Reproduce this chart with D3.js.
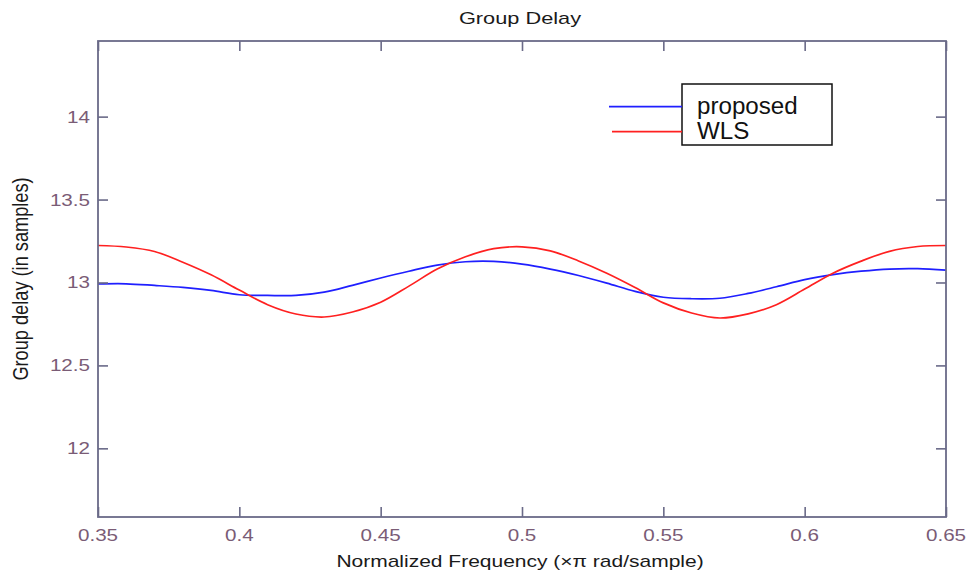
<!DOCTYPE html>
<html>
<head>
<meta charset="utf-8">
<script src="https://cdn.jsdelivr.net/npm/d3@7"></script>
<style>
  html, body { margin: 0; padding: 0; background: #fff; }
  svg { display: block; font-family: "Liberation Sans", Arial, Helvetica, sans-serif; }
</style>
</head>
<body>
<svg id="chart" width="972" height="575"></svg>
<script>
// ---- data ----
const frequency = [0.35,0.36,0.37,0.38,0.39,0.40,0.41,0.42,0.43,0.44,0.45,0.46,0.47,0.48,0.49,0.50,
                   0.51,0.52,0.53,0.54,0.55,0.56,0.57,0.58,0.59,0.60,0.61,0.62,0.63,0.64,0.65];
const proposed = [12.991,12.992,12.982,12.970,12.952,12.926,12.922,12.922,12.942,12.983,13.027,13.068,
                  13.105,13.125,13.127,13.111,13.081,13.042,12.996,12.946,12.911,12.902,12.905,12.934,
                  12.974,13.017,13.047,13.068,13.081,13.083,13.074];
const wls = [13.223,13.214,13.187,13.122,13.046,12.954,12.866,12.810,12.792,12.822,12.881,12.978,
             13.081,13.155,13.204,13.215,13.191,13.130,13.056,12.970,12.877,12.816,12.786,12.811,
             12.866,12.960,13.056,13.129,13.188,13.217,13.223];
const xTicks = [0.35,0.40,0.45,0.50,0.55,0.60,0.65];
const xTickLabels = ["0.35","0.4","0.45","0.5","0.55","0.6","0.65"];
const yTicks = [12,12.5,13,13.5,14];
const yTickLabels = ["12","12.5","13","13.5","14"];
const seriesNames = ["proposed","WLS"];
const seriesColors = ["#1f1fff","#ff2020"];
const titleText = "Group Delay";
const xLabelText = "Normalized Frequency  (\u00D7\u03C0 rad/sample)";
const yLabelText = "Group delay (in samples)";

// ---- layout ----
const L = 98, R = 946, T = 41, B = 517;
const SX = 1.25; // horizontal stretch of the reference text
const axisColor = "#6a6a88";
const tickTextColor = "#7a5c76";

const svg = d3.select("#chart");
const x = d3.scaleLinear().domain([0.35, 0.65]).range([L, R]);
const y = d3.scaleLinear().domain([11.586, 14.456]).range([B, T]);

// curves (drawn first, clipped to the box)
svg.append("clipPath").attr("id","clip").append("rect")
  .attr("x", L).attr("y", T).attr("width", R - L).attr("height", B - T);

const line = d3.line().x((d,i) => x(frequency[i])).y(d => y(d)).curve(d3.curveCatmullRom);
const g = svg.append("g").attr("clip-path","url(#clip)");
[proposed, wls].forEach((s, k) => {
  g.append("path").datum(s).attr("d", line)
    .attr("fill","none").attr("stroke", seriesColors[k]).attr("stroke-width", 1.7);
});

// axes: bottom / left with labels, top / right with ticks only (inward ticks)
const tickLen = 10;
const xb = d3.axisBottom(x).tickValues(xTicks).tickSizeInner(-tickLen).tickSizeOuter(0).tickFormat("");
const xt = d3.axisTop(x).tickValues(xTicks).tickSizeInner(-tickLen).tickSizeOuter(0).tickFormat("");
const yl = d3.axisLeft(y).tickValues(yTicks).tickSizeInner(-tickLen).tickSizeOuter(0).tickFormat("");
const yr = d3.axisRight(y).tickValues(yTicks).tickSizeInner(-tickLen).tickSizeOuter(0).tickFormat("");

function styleAxis(sel) {
  sel.select(".domain").remove();
  sel.selectAll(".tick line").attr("stroke", axisColor).attr("stroke-width", 1.6);
}
svg.append("g").attr("transform", `translate(0,${B})`).call(xb).call(styleAxis);
svg.append("g").attr("transform", `translate(0,${T})`).call(xt).call(styleAxis);
svg.append("g").attr("transform", `translate(${L},0)`).call(yl).call(styleAxis);
svg.append("g").attr("transform", `translate(${R},0)`).call(yr).call(styleAxis);

// box
svg.append("rect").attr("x", L).attr("y", T).attr("width", R - L).attr("height", B - T)
  .attr("fill","none").attr("stroke", axisColor).attr("stroke-width", 1.8);

// tick labels
svg.append("g").selectAll("text").data(xTicks).join("text")
  .attr("transform", d => `translate(${x(d)},${B + 24}) scale(${SX},1)`)
  .attr("text-anchor","middle").attr("font-size", 16.5).attr("fill", tickTextColor)
  .text((d,i) => xTickLabels[i]);
svg.append("g").selectAll("text").data(yTicks).join("text")
  .attr("transform", d => `translate(${L - 8},${y(d) + 6}) scale(${SX},1)`)
  .attr("text-anchor","end").attr("font-size", 16.5).attr("fill", tickTextColor)
  .text((d,i) => yTickLabels[i]);

// title and axis labels
svg.append("text").attr("transform", `translate(${(L + R) / 2 - 2},24) scale(1.28,1)`)
  .attr("text-anchor","middle").attr("font-size", 17).attr("fill","#1a1a1a").text(titleText);
svg.append("text").attr("transform", `translate(${(L + R) / 2 - 2},567) scale(${SX},1)`)
  .attr("text-anchor","middle").attr("font-size", 16.8).attr("fill","#1a1a1a").text(xLabelText);
svg.append("text").attr("transform", `translate(28,${(T + B) / 2}) scale(${SX},1) rotate(-90)`)
  .attr("text-anchor","middle").attr("font-size", 18.2).attr("fill","#1a1a1a").text(yLabelText);

// legend
const lg = svg.append("g");
lg.append("rect").attr("x", 682).attr("y", 84).attr("width", 150).attr("height", 61)
  .attr("fill","#fff").attr("stroke","#111").attr("stroke-width", 1.5);
const legY = [106.7, 131.7];
const legX0 = [609, 612];
seriesNames.forEach((n, k) => {
  lg.append("line").attr("x1", legX0[k]).attr("x2", 682).attr("y1", legY[k]).attr("y2", legY[k])
    .attr("stroke", seriesColors[k]).attr("stroke-width", 1.7);
  lg.append("text").attr("transform", `translate(697,${legY[k] + 7}) scale(1.05,1)`)
    .attr("font-size", 23).attr("fill","#111").text(n);
});
</script>
</body>
</html>
